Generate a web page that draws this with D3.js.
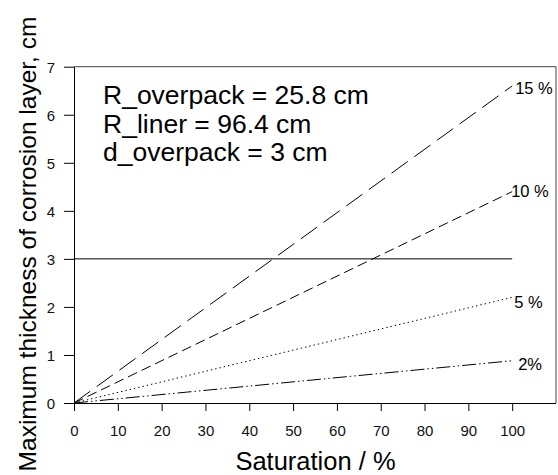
<!DOCTYPE html>
<html>
<head>
<meta charset="utf-8">
<script src="https://cdn.jsdelivr.net/npm/d3@7"></script>
<style>
  html, body { margin: 0; padding: 0; background: #fff; }
  svg { display: block; font-family: "Liberation Sans", Arial, sans-serif; }
</style>
</head>
<body>
<svg id="chart" width="558" height="475"></svg>
<script>
// ---- data ----
const saturation = [0, 100];               // % (x)
const seriesNames = ["15 %", "10 %", "5 %", "2%"];
const series15 = [0, 6.6];
const series10 = [0, 4.4];
const series5  = [0, 2.2];
const series2  = [0, 0.88];
const limitValue = 3;                       // horizontal reference line
const xTicks = [0, 10, 20, 30, 40, 50, 60, 70, 80, 90, 100];
const yTicks = [0, 1, 2, 3, 4, 5, 6, 7];
const annotations = ["R_overpack = 25.8 cm", "R_liner = 96.4 cm", "d_overpack = 3 cm"];

// ---- layout ----
const svg = d3.select("#chart");
const mLeft = 74, mRight = 556, mTop = 66.7, mBottom = 403;
const x = d3.scaleLinear().domain([0, 110]).range([mLeft, mRight]);
const y = d3.scaleLinear().domain([0, 7]).range([mBottom, mTop]);
const FONT = "Liberation Sans, Arial, sans-serif";

// frame (top & right)
svg.append("path")
  .attr("d", `M${mLeft},${mTop}H${mRight}V${mBottom}`)
  .attr("fill", "none").attr("stroke", "#444").attr("stroke-width", 1);

// x axis
const gx = svg.append("g").attr("transform", `translate(0,${mBottom})`)
  .call(d3.axisBottom(x).tickValues(xTicks).tickFormat(d3.format("d")).tickSize(8).tickSizeOuter(0));
gx.select(".domain").attr("d", `M${mLeft},0.5H${mRight}`).attr("stroke", "#000");
gx.selectAll(".tick line").attr("stroke", "#000");
gx.selectAll(".tick text").attr("y", 32.5).attr("dy", null)
  .attr("font-size", 15).attr("font-family", FONT).attr("fill", "#111");

// y axis
const gy = svg.append("g").attr("transform", `translate(${mLeft},0)`)
  .call(d3.axisLeft(y).tickValues(yTicks).tickFormat(d3.format("d")).tickSize(10).tickSizeOuter(0));
gy.selectAll(".tick line").attr("stroke", "#000");
gy.select(".domain").attr("stroke", "#000");
gy.selectAll(".tick text").attr("x", -19).attr("dy", "0.36em")
  .attr("font-size", 15).attr("font-family", FONT).attr("fill", "#111");

// horizontal limit line
svg.append("line")
  .attr("x1", x(0)).attr("x2", x(100))
  .attr("y1", y(limitValue)).attr("y2", y(limitValue))
  .attr("stroke", "#000").attr("stroke-width", 1);

// series lines
const allSeries = [series15, series10, series5, series2];
const dashes = ["20,8", "10,5", "1.4,3", "14,3,1.5,3,1.5,3"];
const labelDx = [3, -1, 2, 6];
const labelDy = [8, 5, 11, 9];
const line = d3.line().x((d, i) => x(saturation[i])).y(d => y(d));
allSeries.forEach((s, k) => {
  svg.append("path").datum(s)
    .attr("d", line)
    .attr("fill", "none").attr("stroke", "#000").attr("stroke-width", 1)
    .attr("stroke-dasharray", dashes[k]);
  svg.append("text")
    .attr("x", x(saturation[saturation.length - 1]) + labelDx[k])
    .attr("y", y(s[s.length - 1]) + labelDy[k])
    .attr("font-size", 16.5).attr("fill", "#000")
    .text(seriesNames[k]);
});

// annotation block
annotations.forEach((t, i) => {
  svg.append("text").attr("x", 103).attr("y", 104 + i * 28.5)
    .attr("font-size", 26.5).attr("fill", "#000").text(t);
});

// axis titles
svg.append("text").attr("x", 315.5).attr("y", 469.5)
  .attr("text-anchor", "middle").attr("font-size", 25.5).attr("fill", "#000")
  .text("Saturation / %");
svg.append("text").attr("transform", "translate(36,244) rotate(-90)")
  .attr("text-anchor", "middle").attr("font-size", 24.5).attr("fill", "#000")
  .text("Maximum thickness of corrosion layer, cm");
</script>
</body>
</html>
